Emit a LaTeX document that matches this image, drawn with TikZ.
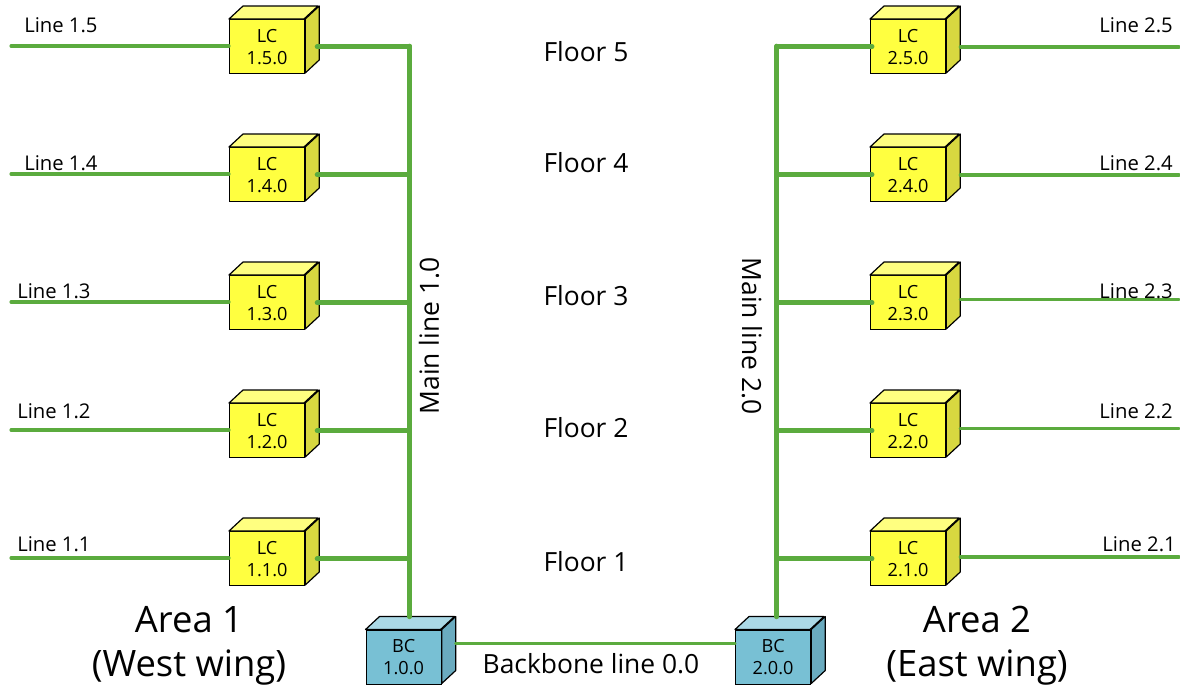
\documentclass[tikz,border=0pt]{standalone}
\usepackage{fontspec}
\setmainfont{Open Sans}
\definecolor{wire}{HTML}{5BAB3E}
\definecolor{lcf}{HTML}{FFFF40}
\definecolor{lct}{HTML}{FFFF80}
\definecolor{lcs}{HTML}{D8D840}
\definecolor{bcf}{HTML}{78C0D4}
\definecolor{bct}{HTML}{ABD9E6}
\definecolor{bcs}{HTML}{6AABBF}
\tikzset{
  x=0.75pt,y=-0.75pt,
  frontbox/.style={draw=black,line width=0.9pt,minimum width=56.25pt,minimum height=40.5pt,inner sep=0pt,align=center,font=\fontsize{13.6}{16.5}\selectfont},
  facebox/.style={draw=black,line width=0.9pt,line join=round},
  thinwire/.style={draw=wire,line width=2.3pt,line cap=round},
  thickwire/.style={draw=wire,line width=3.7pt,line cap=round},
  midwire/.style={draw=wire,line width=3.5pt,line cap=round},
  linelabel/.style={font=\fontsize{15.2}{18}\selectfont,inner sep=0pt,anchor=base west},
  floorlabel/.style={font=\fontsize{19.8}{24}\selectfont,inner sep=0pt},
  arealabel/.style={font=\fontsize{27.3}{33}\selectfont,inner sep=0pt,align=center},
}
% \cube{name}{x-left}{y-top}{front}{top}{side}{text}
\newcommand{\cube}[7]{%
  \node[frontbox,fill=#4,anchor=north west] (#1) at (#2,#3) {#7};
  \path[facebox,fill=#5] (#1.north west) -- ++(14,-13) -- ++(75,0) -- ++(-14,13) -- cycle;
  \path[facebox,fill=#6] (#1.north east) -- ++(14,-13) -- ++(0,54) -- ++(-14,13) -- cycle;
}
\begin{document}
\begin{tikzpicture}
\useasboundingbox (0,0) rectangle (1180,687);
% cubes
\cube{lcfive}{229}{19}{lcf}{lct}{lcs}{LC\\1.5.0}
\cube{lcfour}{229}{147}{lcf}{lct}{lcs}{LC\\1.4.0}
\cube{lcthree}{229}{275}{lcf}{lct}{lcs}{LC\\1.3.0}
\cube{lctwo}{229}{403}{lcf}{lct}{lcs}{LC\\1.2.0}
\cube{lcone}{229}{531}{lcf}{lct}{lcs}{LC\\1.1.0}
\cube{rcfive}{870}{19}{lcf}{lct}{lcs}{LC\\2.5.0}
\cube{rcfour}{870}{147}{lcf}{lct}{lcs}{LC\\2.4.0}
\cube{rcthree}{870}{275}{lcf}{lct}{lcs}{LC\\2.3.0}
\cube{rctwo}{870}{403}{lcf}{lct}{lcs}{LC\\2.2.0}
\cube{rcone}{870}{531}{lcf}{lct}{lcs}{LC\\2.1.0}
\cube{bca}{365.5}{629.5}{bcf}{bct}{bcs}{BC\\1.0.0}
\cube{bcb}{735}{629.5}{bcf}{bct}{bcs}{BC\\2.0.0}
% free ends of the lines
\coordinate (wlfive) at (11,46);
\coordinate (wlfour) at (11,174);
\coordinate (wlthree) at (11,302);
\coordinate (wltwo) at (11,430);
\coordinate (wlone) at (11,558);
\coordinate (wrfive) at (1179,47);
\coordinate (wrfour) at (1179,175);
\coordinate (wrthree) at (1179,299.7);
\coordinate (wrtwo) at (1179,428.3);
\coordinate (wrone) at (1179,557);
\coordinate (mlx) at (409.5,46);
\coordinate (mrx) at (776.7,46);
\coordinate (bbk) at (600,643.3);
% branch lines
\foreach \nm in {five,four,three,two,one}{
  \draw[thinwire] (wl\nm) -- (wl\nm -| lc\nm.west);
  \draw[thinwire] (wr\nm) -- ([xshift=10.5pt]wr\nm -| rc\nm.east);
  \draw[thickwire] ([xshift=9pt]lc\nm.east) -- (lc\nm.east -| mlx);
  \draw[thickwire] (rc\nm.west -| mrx) -- ([xshift=1.5pt]rc\nm.west);
}
% main lines
\draw[midwire] ([yshift=9.5pt]bca.north -| mlx) -- (mlx);
\draw[midwire] ([yshift=9.5pt]bcb.north -| mrx) -- (mrx);
% backbone
\draw[thinwire] ([xshift=10.5pt]bbk -| bca.east) -- (bbk -| bcb.west);
% labels
\node[linelabel] (t15) at (24,32) {Line 1.5};
\node[linelabel] (t14) at (24,170) {Line 1.4};
\node[linelabel] (t13) at (17,298) {Line 1.3};
\node[linelabel] (t12) at (17,418) {Line 1.2};
\node[linelabel] (t11) at (17,551) {Line 1.1};
\node[linelabel,anchor=base east] (t25) at (1173,32) {Line 2.5};
\node[linelabel,anchor=base east] (t24) at (1173,170) {Line 2.4};
\node[linelabel,anchor=base east] (t23) at (1173,298) {Line 2.3};
\node[linelabel,anchor=base east] (t22) at (1173,418) {Line 2.2};
\node[linelabel,anchor=base east] (t21) at (1176,551) {Line 2.1};
\node[floorlabel] (f5) at (586,52) {Floor 5};
\node[floorlabel] (f4) at (586,163) {Floor 4};
\node[floorlabel] (f3) at (586,296) {Floor 3};
\node[floorlabel] (f2) at (586,428) {Floor 2};
\node[floorlabel] (f1) at (586,562) {Floor 1};
\node[floorlabel,rotate=90] (m1) at (429,336) {Main line 1.0};
\node[floorlabel,rotate=-90] (m2) at (752,336) {Main line 2.0};
\node[floorlabel] (bb) at (591,664) {Backbone line 0.0};
\node[arealabel] (a1) at (189,646) {Area 1\\(West wing)};
\node[arealabel] (a2) at (977,646) {Area 2\\(East wing)};
\end{tikzpicture}
\end{document}
